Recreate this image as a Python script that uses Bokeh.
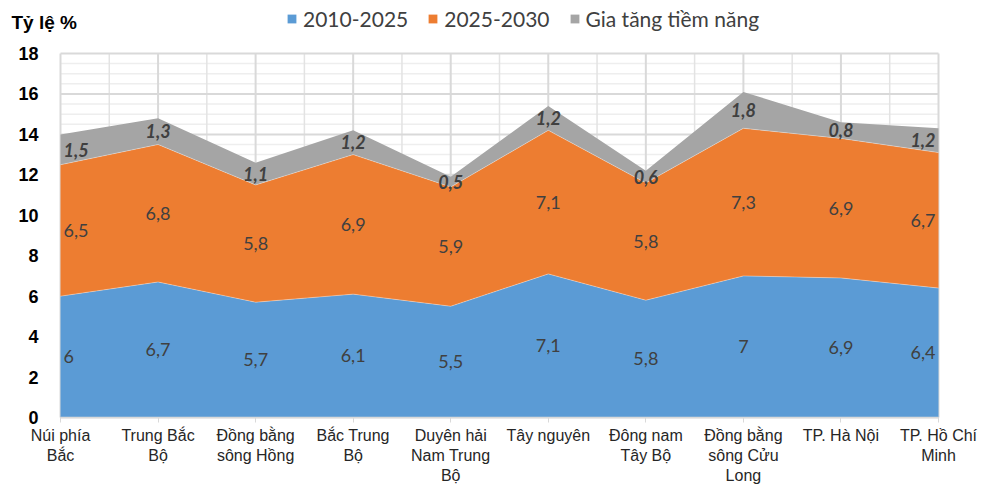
from bokeh.plotting import figure
from bokeh.models import ColumnDataSource, FixedTicker, Range1d, Legend, LegendItem, Label
from bokeh.core.properties import value, field
from bokeh.embed import file_html
from bokeh.resources import INLINE

categories = ["Núi phía\nBắc", "Trung Bắc\nBộ", "Đồng bằng\nsông Hồng", "Bắc Trung\nBộ",
              "Duyên hải\nNam Trung\nBộ", "Tây nguyên", "Đông nam\nTây Bộ",
              "Đồng bằng\nsông Cửu\nLong", "TP. Hà Nội", "TP. Hồ Chí\nMinh"]
s_2010_2025 = [6, 6.7, 5.7, 6.1, 5.5, 7.1, 5.8, 7, 6.9, 6.4]
s_2025_2030 = [6.5, 6.8, 5.8, 6.9, 5.9, 7.1, 5.8, 7.3, 6.9, 6.7]
s_potential = [1.5, 1.3, 1.1, 1.2, 0.5, 1.2, 0.6, 1.8, 0.8, 1.2]
series_names = ["2010-2025", "2025-2030", "Gia tăng tiềm năng"]
series_colors = ["#5b9bd5", "#ed7d31", "#a5a5a5"]
y_ticks = [0, 2, 4, 6, 8, 10, 12, 14, 16, 18]
y_title = "Tỷ lệ %"

n = len(categories)
xs = list(range(n))
series = [s_2010_2025, s_2025_2030, s_potential]
y_max = y_ticks[-1]
x_last = n - 1

def fmt(v):
    return ("%g" % v).replace(".", ",")

# layout (pixels): frame covers x 8..982 and the full height; the value area is
# x 60..938 and y 53..417, the rest holds the title, legend and axis labels
W, H = 982, 489
frame_left, area_left, area_right = 8, 60, 938
area_top, area_bottom = 53, 417
px_per_unit = (area_bottom - area_top) / y_max
px_per_cat = (area_right - area_left) / x_last
y_top = y_max + area_top / px_per_unit
y_lo = -(H - area_bottom) / px_per_unit
x_lo = -(area_left - frame_left) / px_per_cat
x_hi = x_last + (W - area_right) / px_per_cat

src = ColumnDataSource(dict(x=xs, a=s_2010_2025, b=s_2025_2030, c=s_potential))

p = figure(width=W, height=H, x_range=Range1d(x_lo, x_hi), y_range=Range1d(y_lo, y_top),
           output_backend="svg", toolbar_location=None,
           min_border_left=frame_left, min_border_right=0, min_border_top=0,
           min_border_bottom=0)
p.outline_line_color = None
p.background_fill_color = "white"
p.xgrid.grid_line_color = None
p.ygrid.grid_line_color = None

# grid lines, limited to the value area
minor_y = [k * 0.5 for k in range(2 * y_max + 1) if k % 4]
p.segment(x0=[0] * len(minor_y), y0=minor_y, x1=[x_last] * len(minor_y), y1=minor_y,
          line_color="#eeeeee", line_width=1.5, level="underlay")
minor_x = [i + 0.5 for i in range(n - 1)]
p.segment(x0=minor_x, y0=[0] * len(minor_x), x1=minor_x, y1=[y_max] * len(minor_x),
          line_color="#e3e3e3", line_width=1.5, level="underlay")
p.segment(x0=[0] * len(y_ticks), y0=y_ticks, x1=[x_last] * len(y_ticks), y1=y_ticks,
          line_color="#d9d9d9", line_width=2, level="underlay")
p.segment(x0=xs, y0=[0] * n, x1=xs, y1=[y_max] * n,
          line_color="#d9d9d9", line_width=2, level="underlay")

rs = p.varea_stack(stackers=["a", "b", "c"], x="x", color=series_colors, source=src)

# light boundaries between layers
bottom = [0.0] * n
tops = []
for s in series:
    top = [b + v for b, v in zip(bottom, s)]
    tops.append((list(bottom), top))
    bottom = top
for (_, top) in tops[:2]:
    p.line(xs, top, line_color="white", line_alpha=0.35, line_width=1)

# data labels
aligns = ["left"] + ["center"] * (n - 2) + ["right"]
xoffs = [3] + [0] * (n - 2) + [-3]
for i, (s, (b, t)) in enumerate(zip(series, tops)):
    ds = ColumnDataSource(dict(x=xs, y=[bb + v / 2 for bb, v in zip(b, s)],
                               t=[fmt(v) for v in s], al=aligns, xo=xoffs))
    p.text(x="x", y="y", text="t", source=ds, text_align=field("al"), x_offset=field("xo"),
           text_baseline="middle", text_font=value("Lato"), text_font_size="18px",
           text_color="#404040",
           text_font_style="bold italic" if i == 2 else "normal")

# axes
p.yaxis.fixed_location = 0
p.yaxis.bounds = (0, y_max)
p.yaxis.ticker = FixedTicker(ticks=y_ticks)
p.yaxis.axis_line_color = None
p.yaxis.major_tick_line_color = None
p.yaxis.minor_tick_line_color = None
p.yaxis.major_label_text_font = "Liberation Sans"
p.yaxis.major_label_text_font_style = "bold"
p.yaxis.major_label_text_font_size = "18px"
p.yaxis.major_label_text_color = "#000000"
p.yaxis.major_label_standoff = 16

p.xaxis.fixed_location = 0
p.xaxis.bounds = (0, x_last)
p.xaxis.ticker = FixedTicker(ticks=xs)
p.xaxis.major_label_overrides = {i: c for i, c in enumerate(categories)}
p.xaxis.axis_line_color = "#d9d9d9"
p.xaxis.axis_line_width = 1.5
p.xaxis.major_tick_in = 0
p.xaxis.major_tick_out = 5
p.xaxis.major_tick_line_color = "#d9d9d9"
p.xaxis.minor_tick_line_color = None
p.xaxis.major_label_text_font = "Liberation Sans"
p.xaxis.major_label_text_font_size = "16px"
p.xaxis.major_label_text_color = "#262626"
p.xaxis.major_label_standoff = 4

legend = Legend(items=[LegendItem(label=nm, renderers=[r]) for nm, r in zip(series_names, rs)],
                orientation="horizontal", location=(278, 458), padding=0, margin=0,
                spacing=19, label_standoff=6, glyph_width=11, glyph_height=11,
                border_line_color=None, background_fill_alpha=0,
                label_text_font="Lato", label_text_font_size="21px",
                label_text_color="#404040")
p.add_layout(legend)

title = Label(x=3, y=467, x_units="screen", y_units="screen", text=y_title,
              text_font="Liberation Sans", text_font_style="bold", text_font_size="19px",
              text_color="#000000", text_baseline="alphabetic")
p.add_layout(title)

open("out.html", "w").write(file_html(p, INLINE))
